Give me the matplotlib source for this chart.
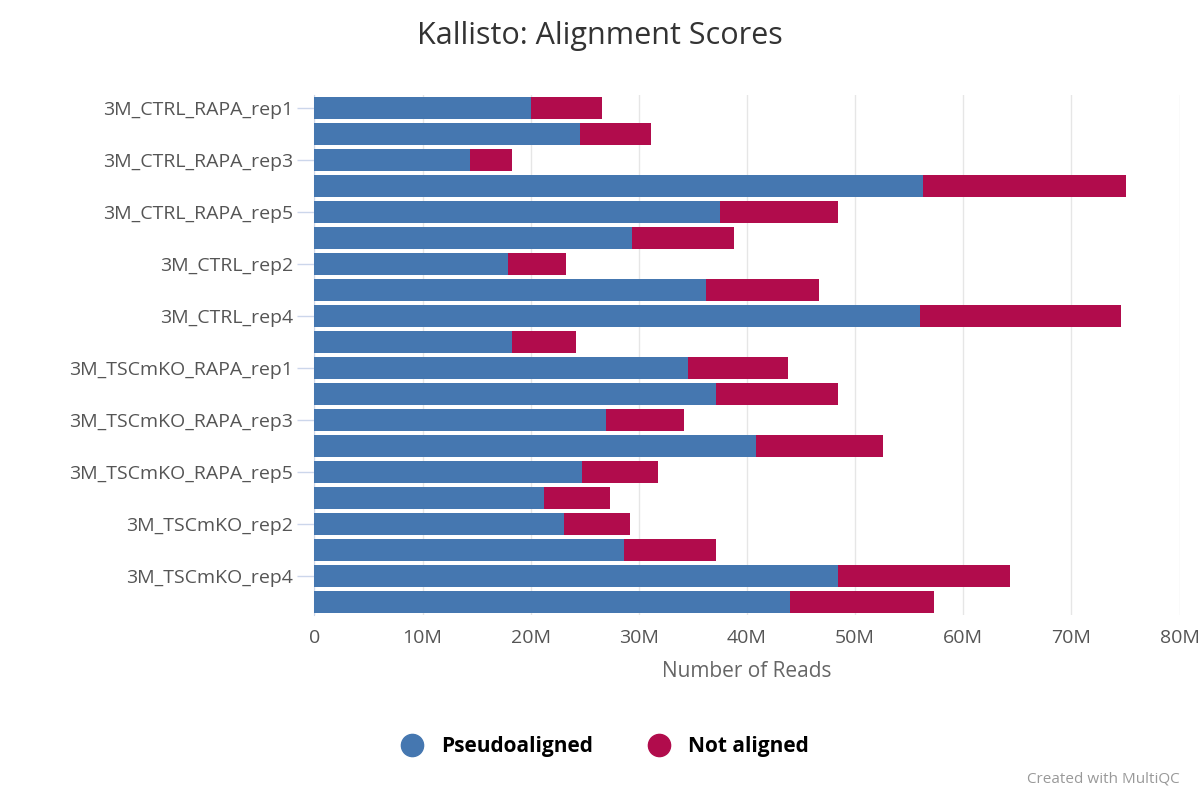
import matplotlib
matplotlib.use("Agg")
import matplotlib.pyplot as plt
from matplotlib.lines import Line2D

samples = ["3M_CTRL_RAPA_rep1","3M_CTRL_RAPA_rep2","3M_CTRL_RAPA_rep3","3M_CTRL_RAPA_rep4","3M_CTRL_RAPA_rep5",
           "3M_CTRL_rep1","3M_CTRL_rep2","3M_CTRL_rep3","3M_CTRL_rep4","3M_CTRL_rep5",
           "3M_TSCmKO_RAPA_rep1","3M_TSCmKO_RAPA_rep2","3M_TSCmKO_RAPA_rep3","3M_TSCmKO_RAPA_rep4","3M_TSCmKO_RAPA_rep5",
           "3M_TSCmKO_rep1","3M_TSCmKO_rep2","3M_TSCmKO_rep3","3M_TSCmKO_rep4","3M_TSCmKO_rep5"]
pseudo = [20.0,24.6,14.4,56.3,37.5,29.4,17.9,36.2,56.0,18.3,34.5,37.1,27.0,40.8,24.7,21.2,23.1,28.6,48.4,44.0]
total = [26.6,31.1,18.3,75.0,48.4,38.8,23.3,46.7,74.6,24.2,43.8,48.4,34.2,52.6,31.8,27.3,29.2,37.1,64.3,57.3]
not_aligned = [t - p for t, p in zip(total, pseudo)]
xticks = [0,10,20,30,40,50,60,70,80]
xticklabels = ["0","10M","20M","30M","40M","50M","60M","70M","80M"]

blue = "#4577b0"; red = "#b10c4c"
plt.rcParams['font.family'] = ['Open Sans', 'DejaVu Sans']
fig = plt.figure(figsize=(12, 8), dpi=100)
ax = fig.add_axes([0.262, 0.231, 0.721, 0.65])
y = list(range(len(samples)))
ax.barh(y, pseudo, height=0.85, color=blue, zorder=3)
ax.barh(y, not_aligned, left=pseudo, height=0.85, color=red, zorder=3)
ax.set_ylim(len(samples) - 0.5, -0.5)
ax.set_xlim(0, 80)
ax.set_xticks(xticks)
ax.set_xticklabels(xticklabels, fontsize=14, color="#555555")
ax.set_yticks(y[::2])
ax.set_yticklabels(samples[::2], fontsize=14, color="#555555")
ax.tick_params(axis='y', length=12, color="#ccd6eb", width=1)
ax.tick_params(axis='x', length=0, pad=10)
ax.grid(axis='x', color="#e6e6e6", lw=1, zorder=0)
for s in ["top", "right", "bottom"]:
    ax.spines[s].set_visible(False)
ax.spines["left"].set_color("#ccd6eb")
ax.set_xlabel("Number of Reads", fontsize=15, color="#666666", labelpad=10)
fig.text(0.5, 0.955, "Kallisto: Alignment Scores", ha="center", va="center", fontsize=22, color="#333333")
handles = [Line2D([], [], marker='o', ls='', ms=16, color=blue), Line2D([], [], marker='o', ls='', ms=16, color=red)]
fig.legend(handles, ["Pseudoaligned", "Not aligned"], loc="center", bbox_to_anchor=(0.5, 0.067), ncol=2,
           frameon=False, prop={'size': 15, 'weight': 'bold'}, handletextpad=0.4, columnspacing=2.2)
fig.text(0.983, 0.022, "Created with MultiQC", ha="right", fontsize=11, color="#999999")
fig.savefig("out.png")
